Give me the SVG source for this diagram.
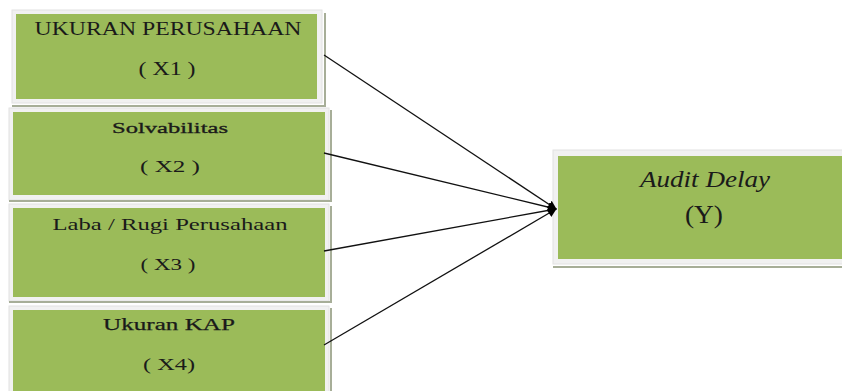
<svg xmlns="http://www.w3.org/2000/svg" width="842" height="391" viewBox="0 0 842 391">
<style>
.frame{fill:#f1f1f1;stroke:#e2e2e2;stroke-width:1}
.box{fill:#9bbb59}
.shadow{stroke:#a7ae98;stroke-width:2;fill:none}
.t{fill:#1a1a1a;text-anchor:middle}
.conn{stroke:#111;stroke-width:1.3;fill:none;marker-end:url(#arr)}
</style>
<defs>
<marker id="arr" viewBox="0 0 10 10" refX="9" refY="5" markerWidth="9" markerHeight="9" markerUnits="userSpaceOnUse" orient="auto">
<path d="M0,0 L10,5 L0,10 z" fill="#000"/>
</marker>
</defs>
<rect width="842" height="391" fill="#fff"/>
<g font-family="Liberation Serif, Tinos, Noto Serif, DejaVu Serif, Times New Roman, serif">
<g id="x1">
<rect class="frame" x="12" y="10" width="310" height="93"/>
<path class="shadow" d="M325,13 V106 H12"/>
<rect class="box" x="16" y="14" width="301" height="85"/>
<text class="t" x="168" y="35" font-size="19" textLength="267" lengthAdjust="spacingAndGlyphs">UKURAN PERUSAHAAN</text>
<text class="t" x="167" y="75" font-size="18" textLength="57" lengthAdjust="spacingAndGlyphs">( X1 )</text>
</g>
<g id="x2">
<rect class="frame" x="9" y="108" width="320" height="92"/>
<path class="shadow" d="M331,110 V201 H9"/>
<rect class="box" x="13" y="112" width="312" height="83"/>
<text class="t" x="170" y="133" font-size="15" stroke="#1a1a1a" stroke-width="0.3" textLength="116" lengthAdjust="spacingAndGlyphs">Solvabilitas</text>
<text class="t" x="170" y="172" font-size="17" textLength="60" lengthAdjust="spacingAndGlyphs">( X2 )</text>
</g>
<g id="x3">
<rect class="frame" x="9" y="204" width="320" height="97"/>
<path class="shadow" d="M331,206 V302 H9"/>
<rect class="box" x="13" y="208" width="312" height="89"/>
<text class="t" x="170" y="230" font-size="17" textLength="235" lengthAdjust="spacingAndGlyphs">Laba / Rugi Perusahaan</text>
<text class="t" x="168" y="270" font-size="17" textLength="55" lengthAdjust="spacingAndGlyphs">( X3 )</text>
</g>
<g id="x4">
<rect class="frame" x="9" y="306" width="320" height="95"/>
<path class="shadow" d="M331,308 V395"/>
<rect class="box" x="13" y="310" width="312" height="90"/>
<text class="t" x="169" y="330" font-size="17" stroke="#1a1a1a" stroke-width="0.25" textLength="132" lengthAdjust="spacingAndGlyphs">Ukuran KAP</text>
<text class="t" x="169" y="370" font-size="17" textLength="52" lengthAdjust="spacingAndGlyphs">( X4)</text>
</g>
<g id="y">
<rect class="frame" x="553" y="150" width="300" height="114"/>
<path class="shadow" d="M553,267 H850"/>
<rect class="box" x="558" y="156" width="290" height="103"/>
<text class="t" x="705" y="187" font-size="23" font-style="italic" textLength="130" lengthAdjust="spacingAndGlyphs">Audit Delay</text>
<text class="t" x="704" y="223" font-size="25" textLength="38" lengthAdjust="spacingAndGlyphs">(Y)</text>
</g>
</g>
<g id="connectors">
<line class="conn" x1="324" y1="55" x2="556" y2="209"/>
<line class="conn" x1="324" y1="153" x2="556" y2="209"/>
<line class="conn" x1="324" y1="251" x2="556" y2="209"/>
<line class="conn" x1="324" y1="345" x2="556" y2="209"/>
</g>
</svg>
